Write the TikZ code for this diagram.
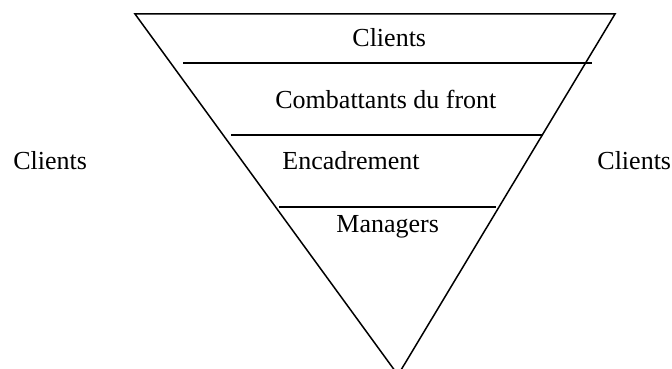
\documentclass[tikz,border=0pt]{standalone}
\usepackage{fontspec}
\setmainfont{Liberation Serif}
\begin{document}
\begin{tikzpicture}[x=0.5pt,y=-0.5pt,
  lbl/.style={anchor=base west,inner sep=0pt,font=\fontsize{13}{15}\selectfont},
  edge/.style={line width=0.75pt}]
\useasboundingbox (0,0) rectangle (672,368);
\begin{scope}
\clip (0,0) rectangle (672,368);
\coordinate (tl) at (135,14);
\coordinate (tr) at (615,14);
\coordinate (ap) at (398,375);
\draw[edge] (ap) -- (tl) -- (tr) -- (ap);
\end{scope}
\coordinate (a1) at (183,63); \coordinate (b1) at (592,63);
\coordinate (a2) at (231,135); \coordinate (b2) at (543,135);
\coordinate (a3) at (279,207); \coordinate (b3) at (496,207);
\draw[edge] (a1) -- (b1);
\draw[edge] (a2) -- (b2);
\draw[edge] (a3) -- (b3);
\node[lbl] (c1) at (352,47) {Clients};
\node[lbl] (cf) at (275,109) {Combattants du front};
\node[lbl] (en) at (282,170) {Encadrement};
\node[lbl] (ma) at (336,232) {Managers};
\node[lbl] (cl) at (13,170) {Clients};
\node[lbl] (cr) at (597,170) {Clients};
\end{tikzpicture}
\end{document}
